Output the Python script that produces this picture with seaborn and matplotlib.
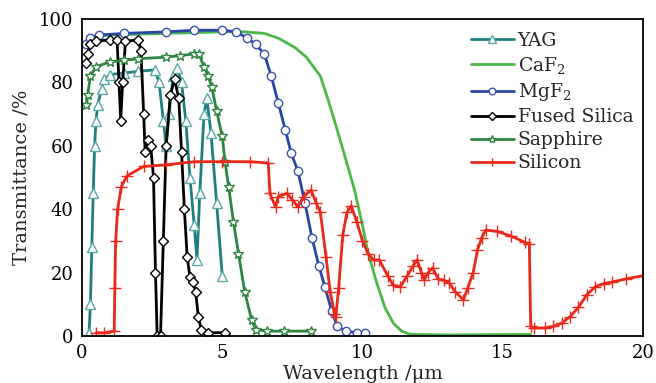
import seaborn as sns
import pandas as pd
import matplotlib.pyplot as plt

# wavelength (um) / transmittance (%)
yag_x = [0.2, 0.25, 0.3, 0.35, 0.4, 0.45, 0.5, 0.56, 0.7, 0.8, 1.0, 1.5, 2.0, 2.6, 2.75,
         2.9, 3.0, 3.1, 3.25, 3.4, 3.55, 3.7, 3.85, 4.0, 4.1, 4.2, 4.35, 4.45, 4.6, 4.8, 5.0]
yag_t = [0, 1, 10, 28, 45, 60, 68, 73, 78, 81, 82.5, 83, 83.5, 84, 80,
         68, 60, 70, 82, 84.5, 80, 68, 50, 35, 24, 45, 70, 75, 64, 42, 19]

caf2_x = [0.15, 0.3, 1, 3, 5, 5.8, 6.5, 7.0, 7.6, 8.0, 8.5, 8.76, 9.0, 9.3, 9.72, 10.0,
          10.18, 10.5, 10.8, 11.1, 11.4, 11.7, 13, 16]
caf2_t = [93, 94.5, 95, 95.5, 96, 96, 95.5, 94, 91, 88, 82, 75, 68, 59, 46, 35,
          27, 17, 9, 4, 1.5, 0.5, 0.3, 0.5]

mgf2_x = [0.15, 0.3, 0.6, 1.5, 3, 4, 5, 5.5, 5.9, 6.2, 6.5, 6.75, 7.0, 7.25, 7.46, 7.7,
          7.95, 8.2, 8.45, 8.66, 8.9, 9.1, 9.4, 9.8, 10.1]
mgf2_t = [92, 94, 95, 95.5, 96, 96.5, 96.5, 96, 94, 92, 89, 82, 73.5, 65, 57.7, 52,
          42, 31, 22, 15.5, 8, 3, 1.5, 1, 1]

fs_x = [0.16, 0.2, 0.3, 0.5, 1.0, 1.25, 1.32, 1.38, 1.45, 1.55, 2.0, 2.1, 2.2, 2.25, 2.35,
        2.45, 2.55, 2.62, 2.68, 2.8, 2.9, 3.0, 3.15, 3.3, 3.45, 3.55, 3.65, 3.75, 3.85,
        3.95, 4.05, 4.15, 4.25, 4.5, 5.1]
fs_t = [86, 89, 92, 93, 93.5, 93.5, 80, 68, 80, 93, 93.5, 90, 70, 58, 62,
        60, 50, 20, 0, 0, 30, 60, 76, 81, 75, 58, 40, 25, 18.5,
        17, 14, 6, 2, 1, 1]

sap_x = [0.16, 0.2, 0.3, 0.5, 1.0, 1.5, 2.0, 3.0, 3.5, 4.0, 4.17, 4.35, 4.5, 4.63, 4.8,
         5.0, 5.1, 5.23, 5.4, 5.58, 5.8, 6.05, 6.2, 6.6, 7.2, 8.15]
sap_t = [73, 76, 82, 85, 86.5, 87, 87.5, 88, 88.5, 89, 89, 85, 82, 78.5, 71,
         63, 55, 47, 36, 26, 14, 5, 2, 1.5, 1.5, 1.5]

si_x = [0.5, 0.8, 1.15, 1.17, 1.2, 1.27, 1.4, 1.6, 2.2, 3.0, 4.0, 5.0, 6.0, 6.64, 6.7,
        6.9, 7.0, 7.3, 7.5, 7.7, 7.9, 8.17, 8.35, 8.5, 8.7, 8.85, 9.0, 9.05, 9.15, 9.3,
        9.45, 9.6, 9.8, 10.0, 10.2, 10.4, 10.6, 10.9, 11.1, 11.35, 11.6, 11.8, 11.95,
        12.1, 12.2, 12.35, 12.5, 12.7, 12.9, 13.1, 13.3, 13.6, 13.75, 13.95, 14.1, 14.25,
        14.4, 14.8, 15.3, 15.8, 15.95, 16.0, 16.1, 16.5, 16.8, 17.1, 17.4, 17.7, 18.0,
        18.3, 18.6, 18.9, 19.4, 20]
si_t = [1, 1, 1.5, 15, 30, 40, 47, 50.5, 53.5, 54, 55, 55, 55, 54.6, 45,
        40.7, 44, 45, 43, 40.7, 44, 46, 42, 39, 25, 14, 7, 6, 15, 32,
        39, 41, 36, 30, 26, 24, 24, 19, 16, 15.5, 19, 22, 24,
        20, 17.7, 20, 21.5, 18, 17.5, 16.7, 14, 11.4, 15, 20, 27, 31,
        33.4, 33, 31.5, 29.5, 29, 3, 2.5, 2.5, 3, 4, 6, 9, 13,
        15.5, 16.5, 17, 18, 19]

labels = ['YAG', 'CaF$_2$', 'MgF$_2$', 'Fused Silica', 'Sapphire', 'Silicon']
xs = [yag_x, caf2_x, mgf2_x, fs_x, sap_x, si_x]
ts = [yag_t, caf2_t, mgf2_t, fs_t, sap_t, si_t]

styles = [
    dict(color='#1f7f7f', marker='^', mfc='white', mec='#5aa9a9', ms=6.5),
    dict(color='#4cb848', marker=None),
    dict(color='#2845a8', marker='o', mfc='white', mec='#3a52b0', ms=6),
    dict(color='black', marker='D', mfc='white', mec='black', ms=5),
    dict(color='#2e8540', marker='*', mfc='white', mec='#2e8540', ms=7.5),
    dict(color='#e8291c', marker='+', mec='#e8291c', ms=8),
]

sns.set_style('white')
plt.rcParams['font.family'] = ['DejaVu Serif']
plt.rcParams['mathtext.fontset'] = 'dejavuserif'
plt.rcParams['xtick.direction'] = 'in'
plt.rcParams['ytick.direction'] = 'in'

fig = plt.figure(figsize=(6.56, 3.83), dpi=100)
ax = fig.add_axes([0.125, 0.123, 0.855, 0.827])

for lab, x, t, st in zip(labels, xs, ts, styles):
    df = pd.DataFrame({'x': x, 't': t})
    kw = dict(linewidth=2, color=st['color'])
    if st['marker']:
        kw.update(marker=st['marker'], markersize=st['ms'], markeredgecolor=st['mec'],
                  markeredgewidth=1.0)
        if 'mfc' in st:
            kw['markerfacecolor'] = st['mfc']
    sns.lineplot(data=df, x='x', y='t', ax=ax, label=lab, estimator=None, sort=False, **kw)

ax.set_xlim(0, 20)
ax.set_ylim(0, 100)
ax.set_xticks([0, 5, 10, 15, 20])
ax.set_yticks([0, 20, 40, 60, 80, 100])
ax.tick_params(labelsize=13, length=5, width=1.2, colors='black', pad=6)
for s in ax.spines.values():
    s.set_color('black')
    s.set_linewidth(1.3)

ax.set_xlabel('Wavelength /μm', fontsize=14, labelpad=2)
ax.set_ylabel('Transmittance /%', fontsize=14, labelpad=6)

leg = ax.legend(loc='upper right', bbox_to_anchor=(1.003, 0.995), frameon=False,
                fontsize=13.5, handlelength=2.3, handletextpad=0.2, labelspacing=0.27,
                borderaxespad=0.2, markerscale=0.8)

fig.savefig('out.png', dpi=100)
